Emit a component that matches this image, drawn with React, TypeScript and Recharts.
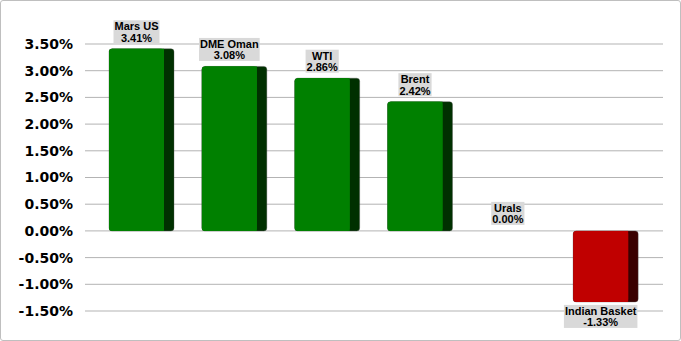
import React from 'react';
import { ComposedChart, Bar, XAxis, YAxis, CartesianGrid } from 'recharts';

const categories = ['Mars US', 'DME Oman', 'WTI', 'Brent', 'Urals', 'Indian Basket'];
const values = [3.41, 3.08, 2.86, 2.42, 0.0, -1.33];
const yTicks = [-1.5, -1, -0.5, 0, 0.5, 1, 1.5, 2, 2.5, 3, 3.5];

const data = categories.map((name, i) => ({ name, value: values[i] }));

const LABEL_FONT = "bold 11px 'Liberation Sans', Arial, sans-serif";
let ctx: CanvasRenderingContext2D | null = null;
function measure(t: string): number {
  try {
    if (!ctx) ctx = document.createElement('canvas').getContext('2d');
    if (ctx) {
      ctx.font = LABEL_FONT;
      return ctx.measureText(t).width;
    }
  } catch (e) {}
  return t.length * 6.2;
}

const SIDE = 10;

const BarShape = (props: any) => {
  const { x, y, width, height, payload } = props;
  const v: number = payload.value;
  const top = Math.min(y, y + height);
  const bottom = Math.max(y, y + height);
  const h = bottom - top;
  const pos = v >= 0;
  const front = pos ? '#008000' : '#c00000';
  const side = pos ? '#003000' : '#3a0000';
  const fw = width - SIDE;
  const cx = x + fw / 2;
  const l1 = payload.name;
  const l2 = v.toFixed(2) + '%';
  const bw = Math.max(measure(l1), measure(l2)) + 2;
  const bh = 23;
  let boxTop: number;
  if (v > 0) boxTop = top - 5.5 - bh;
  else if (v === 0) boxTop = top - 6 - bh;
  else boxTop = bottom + 3;
  return (
    <g>
      {h > 0.5 && (
        <g>
          <rect x={x} y={top} width={width} height={h} rx={3} ry={3} fill={side} stroke="#555" strokeOpacity={0.45} strokeWidth={0.8} />
          <rect x={x} y={top} width={fw} height={h} rx={3} ry={3} fill={front} />
          <rect x={x + 3} y={top} width={fw - 3} height={h} fill={front} />
        </g>
      )}
      <rect x={cx - bw / 2} y={boxTop} width={bw} height={bh} fill="#d9d9d9" />
      <text x={cx} y={boxTop + 10} textAnchor="middle" style={{ font: LABEL_FONT }} fill="#000">
        {l1}
      </text>
      <text x={cx} y={boxTop + 21.5} textAnchor="middle" style={{ font: LABEL_FONT }} fill="#000">
        {l2}
      </text>
    </g>
  );
};

export default function App() {
  return (
    <div style={{ position: 'absolute', left: 0, top: 0, width: 681, height: 341, background: '#fff' }}>
      <div
        style={{
          position: 'absolute',
          left: 0,
          top: 0,
          width: 681,
          height: 341,
          boxSizing: 'border-box',
          border: '1px solid #bfbfbf',
          borderRadius: 3,
        }}
      />
      <div style={{ position: 'absolute', left: 0, top: 0 }}>
        <ComposedChart width={681} height={341} data={data} margin={{ top: 44, right: 18, bottom: 30, left: 0 }}>
          <CartesianGrid vertical={false} stroke="#b3b3b3" strokeWidth={1} />
          <XAxis dataKey="name" hide padding={{ left: 10, right: 11 }} />
          <YAxis
            type="number"
            domain={[-1.5, 3.5]}
            ticks={yTicks}
            interval={0}
            width={85}
            axisLine={false}
            tickLine={false}
            tickMargin={6}
            tickFormatter={(v: number) => v.toFixed(2) + '%'}
            tick={{ fill: '#000', fontSize: 14, fontWeight: 'bold', fontFamily: "'DejaVu Sans', Verdana, sans-serif" }}
          />
          <Bar dataKey="value" barSize={65} isAnimationActive={false} shape={<BarShape />} />
        </ComposedChart>
      </div>
    </div>
  );
}
